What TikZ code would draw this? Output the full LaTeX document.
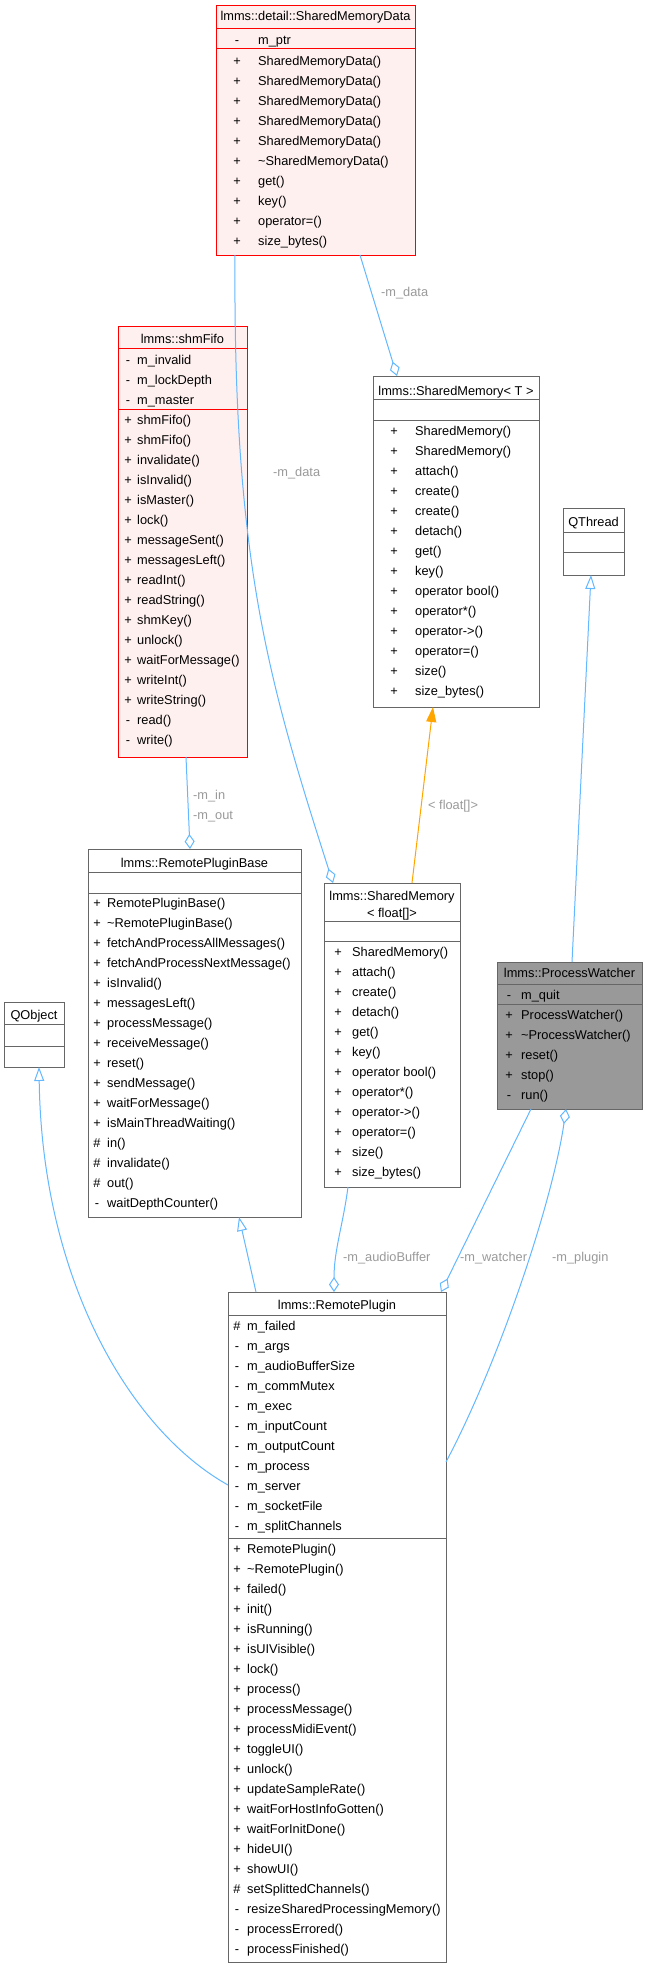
\documentclass[tikz,border=0pt]{standalone}
\usepackage{fontspec}
\setmainfont{Liberation Sans}
\usetikzlibrary{arrows.meta,calc}
\definecolor{edgeblue}{HTML}{63B8FF}
\definecolor{lblgray}{HTML}{9A9A9A}
\definecolor{boxgray}{HTML}{666666}
\definecolor{pinkfill}{HTML}{FFF0F0}
\definecolor{pwfill}{HTML}{999999}
\definecolor{tmplorange}{HTML}{FFA500}
\newcommand\umlfont{\fontsize{12.8}{15}\selectfont}
\def\bsh{4}
\tikzset{
  classbox/.style={draw=boxgray, line width=1pt, fill=white, rectangle, inner sep=0pt, outer sep=0pt, anchor=north west},
  redbox/.style={classbox, draw=red, fill=pinkfill},
  graybox/.style={classbox, fill=pwfill},
  divg/.style={boxgray, line width=1pt},
  divr/.style={red, line width=1pt},
  sgn/.style={inner sep=0pt, font=\umlfont, anchor=base},
  mem/.style={inner sep=0pt, font=\umlfont, anchor=base west},
  ttl/.style={inner sep=0pt, font=\umlfont, anchor=base},
  lbl/.style={inner sep=0pt, font=\umlfont, text=lblgray, anchor=base west},
  assoc/.style={edgeblue, line width=1pt, -{Diamond[open, length=15pt, width=10pt]}},
  inh/.style={edgeblue, line width=1pt, -{Triangle[open, length=14pt, width=10pt]}},
  tmpl/.style={tmplorange, line width=1pt, -{Triangle[length=15pt, width=10pt]}}
}
\newcommand\umlrows[5]{%
  \foreach \s/\m [count=\i] in {#5}{%
    \node[sgn] (#1s\i) at (#2, {#4+20*(\i-1)+\bsh}) {\s};
    \node[mem] (#1m\i) at (#3, {#4+20*(\i-1)+\bsh}) {\m};
  }}
\begin{document}
\begin{tikzpicture}[x=1pt, y=-1pt]
\fill[white] (0,0) rectangle (647,1973);
\useasboundingbox (0,0) rectangle (647,1973);

% ---------- lmms::detail::SharedMemoryData
\node[redbox, minimum width=199pt, minimum height=250pt] (smd) at (216,5) {};
\node[ttl] (smdT) at (315.5,20.5) {lmms::detail::SharedMemoryData};
\draw[divr] (smd.west |- 0,28) -- (smd.east |- 0,28);
\draw[divr] (smd.west |- 0,48) -- (smd.east |- 0,48);
\umlrows{smdA}{237}{258}{40}{-/m\_ptr}
\umlrows{smdO}{237}{258}{61}{+/SharedMemoryData(),+/SharedMemoryData(),+/SharedMemoryData(),+/SharedMemoryData(),+/SharedMemoryData(),+/\textasciitilde SharedMemoryData(),+/get(),+/key(),+/operator=(),+/size\_bytes()}

% ---------- lmms::shmFifo
\node[redbox, minimum width=129pt, minimum height=431pt] (fifo) at (118,326) {};
\node[ttl] (fifoT) at (182.5,343) {lmms::shmFifo};
\draw[divr] (fifo.west |- 0,348) -- (fifo.east |- 0,348);
\draw[divr] (fifo.west |- 0,409) -- (fifo.east |- 0,409);
\umlrows{fifoA}{128}{137}{360}{-/m\_invalid,-/m\_lockDepth,-/m\_master}
\umlrows{fifoO}{128}{137}{420}{+/shmFifo(),+/shmFifo(),+/invalidate(),+/isInvalid(),+/isMaster(),+/lock(),+/messageSent(),+/messagesLeft(),+/readInt(),+/readString(),+/shmKey(),+/unlock(),+/waitForMessage(),+/writeInt(),+/writeString(),-/read(),-/write()}

% ---------- lmms::SharedMemory< T >
\node[classbox, minimum width=166pt, minimum height=331pt] (smt) at (373,376) {};
\node[ttl] (smtT) at (456,395) {lmms::SharedMemory< T >};
\draw[divg] (smt.west |- 0,399) -- (smt.east |- 0,399);
\draw[divg] (smt.west |- 0,420) -- (smt.east |- 0,420);
\umlrows{smtO}{394}{415}{431}{+/SharedMemory(),+/SharedMemory(),+/attach(),+/create(),+/create(),+/detach(),+/get(),+/key(),+/operator bool(),+/operator*(),+/operator->(),+/operator=(),+/size(),+/size\_bytes()}

% ---------- QThread
\node[classbox, minimum width=61pt, minimum height=67pt] (qth) at (563,508) {};
\node[ttl] (qthT) at (593.5,526) {QThread};
\draw[divg] (qth.west |- 0,532) -- (qth.east |- 0,532);
\draw[divg] (qth.west |- 0,552) -- (qth.east |- 0,552);

% ---------- lmms::RemotePluginBase
\node[classbox, minimum width=213pt, minimum height=368pt] (rpb) at (88,849) {};
\node[ttl] (rpbT) at (194.5,867) {lmms::RemotePluginBase};
\draw[divg] (rpb.west |- 0,872) -- (rpb.east |- 0,872);
\draw[divg] (rpb.west |- 0,893) -- (rpb.east |- 0,893);
\umlrows{rpbO}{97}{107}{903}{+/RemotePluginBase(),+/\textasciitilde RemotePluginBase(),+/fetchAndProcessAllMessages(),+/fetchAndProcessNextMessage(),+/isInvalid(),+/messagesLeft(),+/processMessage(),+/receiveMessage(),+/reset(),+/sendMessage(),+/waitForMessage(),+/isMainThreadWaiting(),\#/in(),\#/invalidate(),\#/out(),-/waitDepthCounter()}

% ---------- lmms::SharedMemory< float[]>
\node[classbox, minimum width=136pt, minimum height=304pt] (smf) at (324,883) {};
\node[ttl] (smfT1) at (392,900) {lmms::SharedMemory};
\node[ttl] (smfT2) at (392,917) {< float[]>};
\draw[divg] (smf.west |- 0,921) -- (smf.east |- 0,921);
\draw[divg] (smf.west |- 0,941) -- (smf.east |- 0,941);
\umlrows{smfO}{338}{352}{952}{+/SharedMemory(),+/attach(),+/create(),+/detach(),+/get(),+/key(),+/operator bool(),+/operator*(),+/operator->(),+/operator=(),+/size(),+/size\_bytes()}

% ---------- QObject
\node[classbox, minimum width=60pt, minimum height=65pt] (qob) at (4,1002) {};
\node[ttl] (qobT) at (34,1019) {QObject};
\draw[divg] (qob.west |- 0,1024) -- (qob.east |- 0,1024);
\draw[divg] (qob.west |- 0,1046) -- (qob.east |- 0,1046);

% ---------- lmms::ProcessWatcher
\node[graybox, minimum width=145pt, minimum height=147pt] (pw) at (497,962) {};
\node[ttl] (pwT) at (569.5,977) {lmms::ProcessWatcher};
\draw[divg] (pw.west |- 0,984) -- (pw.east |- 0,984);
\draw[divg] (pw.west |- 0,1004) -- (pw.east |- 0,1004);
\umlrows{pwA}{509}{521}{995}{-/m\_quit}
\umlrows{pwO}{509}{521}{1015}{+/ProcessWatcher(),+/\textasciitilde ProcessWatcher(),+/reset(),+/stop(),-/run()}

% ---------- lmms::RemotePlugin
\node[classbox, minimum width=218pt, minimum height=670pt] (rp) at (228,1292) {};
\node[ttl] (rpT) at (337,1309) {lmms::RemotePlugin};
\draw[divg] (rp.west |- 0,1315) -- (rp.east |- 0,1315);
\draw[divg] (rp.west |- 0,1538) -- (rp.east |- 0,1538);
\umlrows{rpA}{237}{247}{1326}{\#/m\_failed,-/m\_args,-/m\_audioBufferSize,-/m\_commMutex,-/m\_exec,-/m\_inputCount,-/m\_outputCount,-/m\_process,-/m\_server,-/m\_socketFile,-/m\_splitChannels}
\umlrows{rpO}{237}{247}{1549}{+/RemotePlugin(),+/\textasciitilde RemotePlugin(),+/failed(),+/init(),+/isRunning(),+/isUIVisible(),+/lock(),+/process(),+/processMessage(),+/processMidiEvent(),+/toggleUI(),+/unlock(),+/updateSampleRate(),+/waitForHostInfoGotten(),+/waitForInitDone(),+/hideUI(),+/showUI(),\#/setSplittedChannels(),-/resizeSharedProcessingMemory(),-/processErrored(),-/processFinished()}

% ---------- connectors
\draw[assoc] ([xshift=144pt]smd.south west) -- ([xshift=24pt]smt.north west);
\node[lbl] (l1) at (381,296) {-m\_data};

\draw[assoc] ([xshift=19pt]smd.south west) .. controls (233,560) and (268,680) .. ([xshift=9pt]smf.north west);
\node[lbl] (l2) at (273,476) {-m\_data};

\draw[assoc] ([xshift=68pt]fifo.south west) -- ([xshift=102pt]rpb.north west);
\node[lbl] (l3) at (193,799) {-m\_in};
\node[lbl] (l4) at (193,819) {-m\_out};

\draw[tmpl] ([xshift=88pt]smf.north west) -- ([xshift=60pt]smt.south west);
\node[lbl] (l5) at (428,809) {< float[]>};

\draw[inh] ([xshift=75pt]pw.north west) -- ([xshift=28pt]qth.south west);

\draw[inh] ([xshift=28pt]rp.north west) -- ([xshift=151pt]rpb.south west);

\draw[inh] ([yshift=-193pt]rp.north west) .. controls (130,1430) and (42,1280) .. ([xshift=35pt]qob.south west);

\draw[assoc] ([xshift=24pt]smf.south west) .. controls (343,1225) and (334,1250) .. ([xshift=106pt]rp.north west);
\node[lbl] (l6) at (343,1261) {-m\_audioBuffer};

\draw[assoc] ([xshift=34pt]pw.south west) -- ([xshift=-5pt]rp.north east);
\node[lbl] (l7) at (460,1261) {-m\_watcher};

\draw[assoc] ([yshift=-170pt]rp.north east) .. controls (500,1360) and (553,1200) .. ([xshift=69pt]pw.south west);
\node[lbl] (l8) at (552,1261) {-m\_plugin};
\end{tikzpicture}
\end{document}
